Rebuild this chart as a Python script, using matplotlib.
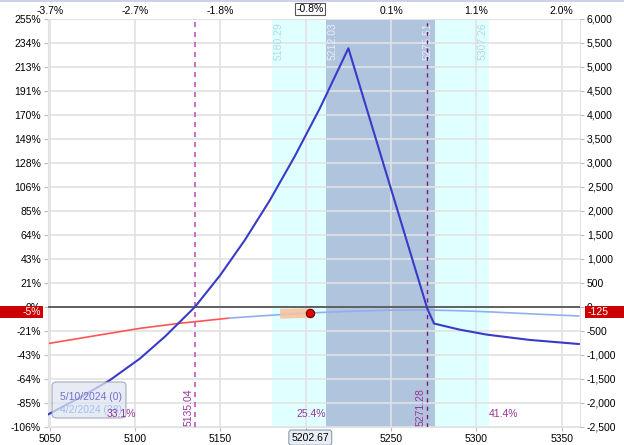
import matplotlib
matplotlib.use("Agg")
import matplotlib.pyplot as plt
from matplotlib.patches import Rectangle, FancyBboxPatch
import matplotlib.transforms as mtransforms

plt.rcParams['font.family'] = ['Liberation Sans', 'DejaVu Sans']
FS = 7.5

# expiration (5/10/2024) P&L curve
exp_x = [5049.2, 5067.8, 5085.3, 5102.9, 5117.6, 5135.04, 5149.8, 5164.4, 5179.1,
         5193.7, 5208.4, 5225.0, 5271.3, 5275.2, 5290, 5306, 5331, 5360]
exp_y = [-2235, -1885, -1523, -1073, -614, 0, 658, 1398, 2231,
         3148, 4148, 5390, -42, -345, -470, -575, -685, -771]

# today (4/2/2024) P&L curve, red part then blue part
t0_red_x = [5050, 5075, 5103, 5126, 5155]
t0_red_y = [-756, -608, -444, -340, -232]
t0_blue_x = [5155, 5175, 5200, 5225, 5250, 5270, 5290, 5310, 5335, 5360]
t0_blue_y = [-232, -182, -128, -90, -66, -62, -78, -105, -148, -187]

price = 5202.67
price_pnl = -125
band_x = [5185, 5202.67]
band_y = [-140, -125]

# price ranges and breakevens
outer_range = [5180.29, 5307.26]
inner_range = [5212.03, 5275.51]
breakevens = [5135.04, 5271.28]
probs = ['33.1%', '25.4%', '41.4%']
prob_x = [5092, 5203, 5316]

x_ticks = [5050, 5100, 5150, 5200, 5250, 5300, 5350]
x_labels = ['5050', '5100', '5150', '', '5250', '5300', '5350']
top_labels = ['-3.7%', '-2.7%', '-1.8%', '', '0.1%', '1.1%', '2.0%']
y_ticks = list(range(6000, -3000, -500))
pct_labels = ['255%', '234%', '213%', '191%', '170%', '149%', '128%', '106%', '85%',
              '64%', '43%', '21%', '0%', '-21%', '-43%', '-64%', '-85%', '-106%']
pnl_labels = ['6,000', '5,500', '5,000', '4,500', '4,000', '3,500', '3,000', '2,500',
              '2,000', '1,500', '1,000', '500', '0', '-500', '-1,000', '-1,500',
              '-2,000', '-2,500']

W, H = 624, 445
fig = plt.figure(figsize=(W / 100, H / 100), dpi=100)
ax = fig.add_axes([48 / W, 1 - 427 / H, 532 / W, 408 / H])
ax.set_xlim(5049, 5360.7)
ax.set_ylim(-2500, 6000)

# shaded ranges
ax.axvspan(outer_range[0], outer_range[1], color='#e0ffff', lw=0, zorder=0.5)
ax.axvspan(inner_range[0], inner_range[1], color='#b0c4de', lw=0, zorder=0.6)

ax.set_xticks(x_ticks)
ax.set_xticklabels(x_labels, fontsize=FS)
ax.set_yticks(y_ticks)
ax.set_yticklabels(pct_labels, fontsize=FS)
ax.grid(True, color='#e2e2e2', lw=1.2)
ax.tick_params(length=3, color='#bbbbbb', pad=2)
for s in ax.spines.values():
    s.set_color('#e2e2e2')

ax2 = ax.twinx()
ax2.set_ylim(-2500, 6000)
ax2.set_yticks(y_ticks)
ax2.set_yticklabels(pnl_labels, fontsize=FS)
ax2.tick_params(length=3, color='#bbbbbb', pad=2)
for s in ax2.spines.values():
    s.set_visible(False)

top = ax.secondary_xaxis('top')
top.set_xticks(x_ticks)
top.set_xticklabels(top_labels, fontsize=FS)
top.tick_params(length=0, pad=2)
for s in top.spines.values():
    s.set_visible(False)

# zero line
ax.axhline(0, color='#555555', lw=1.3, zorder=3)

# breakeven lines
ax.axvline(breakevens[0], color='#c055c0', lw=1.2, ls=(0, (3, 3)), zorder=3)
ax.axvline(breakevens[1], color='#7a1a7a', lw=1.0, ls=(0, (3, 3)), zorder=3)

# curves
ax.plot(t0_red_x, t0_red_y, color='#ff5555', lw=1.2, zorder=4)
ax.plot(t0_blue_x, t0_blue_y, color='#8fb0f0', lw=1.2, zorder=4)
ax.plot(band_x, band_y, color='#f5c3a0', lw=7, alpha=0.9, solid_capstyle='butt', zorder=4)
ax.plot(exp_x, exp_y, color='#3a3ac8', lw=1.5, zorder=5, solid_joinstyle='round')
ax.plot(price, price_pnl, 'o', ms=6, mfc='#e00000', mec='#700000', mew=0.8, zorder=6)

# range labels at top
ax.text(outer_range[0] + 1, 5930, '%.2f' % outer_range[0], rotation=90, ha='left', va='top',
        color='#b5d8e6', fontsize=FS, zorder=6)
ax.text(inner_range[0] + 1, 5930, '%.2f' % inner_range[0], rotation=90, ha='left', va='top',
        color='#e8eef8', fontsize=FS, zorder=6)
ax.text(inner_range[1] - 1, 5930, '%.2f' % inner_range[1], rotation=90, ha='right', va='top',
        color='#e8eef8', fontsize=FS, zorder=6)
ax.text(outer_range[1] - 1, 5930, '%.2f' % outer_range[1], rotation=90, ha='right', va='top',
        color='#b5d8e6', fontsize=FS, zorder=6)

# legend box (under the probability labels, over the curve)
ft = fig.transFigure
leg = FancyBboxPatch((52 / W, 1 - 418 / H), 74 / W, 36 / H, transform=ft,
                     boxstyle='round,pad=0,rounding_size=0.008',
                     fc='#dfe5f0', ec='#8a96a8', lw=0.8, alpha=0.75, zorder=6.5, clip_on=False)
ax.add_patch(leg)
ax.text(60 / W, 1 - 397 / H, '5/10/2024 (0)', transform=ft, ha='left', va='center',
        color='#7070d0', fontsize=FS, zorder=7)
ax.text(60 / W, 1 - 410 / H, '4/2/2024 (38)', transform=ft, ha='left', va='center',
        color='#a0c0f0', fontsize=FS, zorder=7)

# breakeven labels at bottom
for b in breakevens:
    ax.text(b - 0.8, -2470, '%.2f' % b, rotation=90, ha='right', va='bottom',
            color='#993399', fontsize=FS, zorder=8)
for px, p in zip(prob_x, probs):
    ax.text(px, -2230, p, ha='center', va='center', color='#993399', fontsize=FS, zorder=8)

# boxed current price labels
bt = mtransforms.blended_transform_factory(ax.transData, ax.transAxes)
ax.text(price, -0.026, '%.2f' % price, transform=bt, ha='center', va='center', fontsize=FS,
        bbox=dict(boxstyle='round,pad=0.25', fc='#e9edf4', ec='#8a9ab0', lw=0.8), clip_on=False)
ax.text(price, 1.024, '-0.8%', transform=bt, ha='center', va='center', fontsize=FS,
        bbox=dict(boxstyle='square,pad=0.12', fc='white', ec='#555555', lw=0.8), clip_on=False,
        zorder=10)

# red current P&L markers
y0 = 1 - 318 / H
fig.patches.append(Rectangle((0, y0), 43 / W, 12 / H, transform=ft, fc='#cc0000', ec='none'))
fig.patches.append(Rectangle((585 / W, y0), 39 / W, 12 / H, transform=ft, fc='#cc0000', ec='none'))
fig.text(41 / W, y0 + 6 / H, '-5%', ha='right', va='center', color='white', fontsize=FS)
fig.text(588 / W, y0 + 6 / H, '-125', ha='left', va='center', color='white', fontsize=FS)

# top border
fig.patches.append(Rectangle((0, 1 - 2 / H), 1, 2 / H, transform=ft, fc='#cdd2ea', ec='none'))

fig.savefig('out.png', dpi=100)
